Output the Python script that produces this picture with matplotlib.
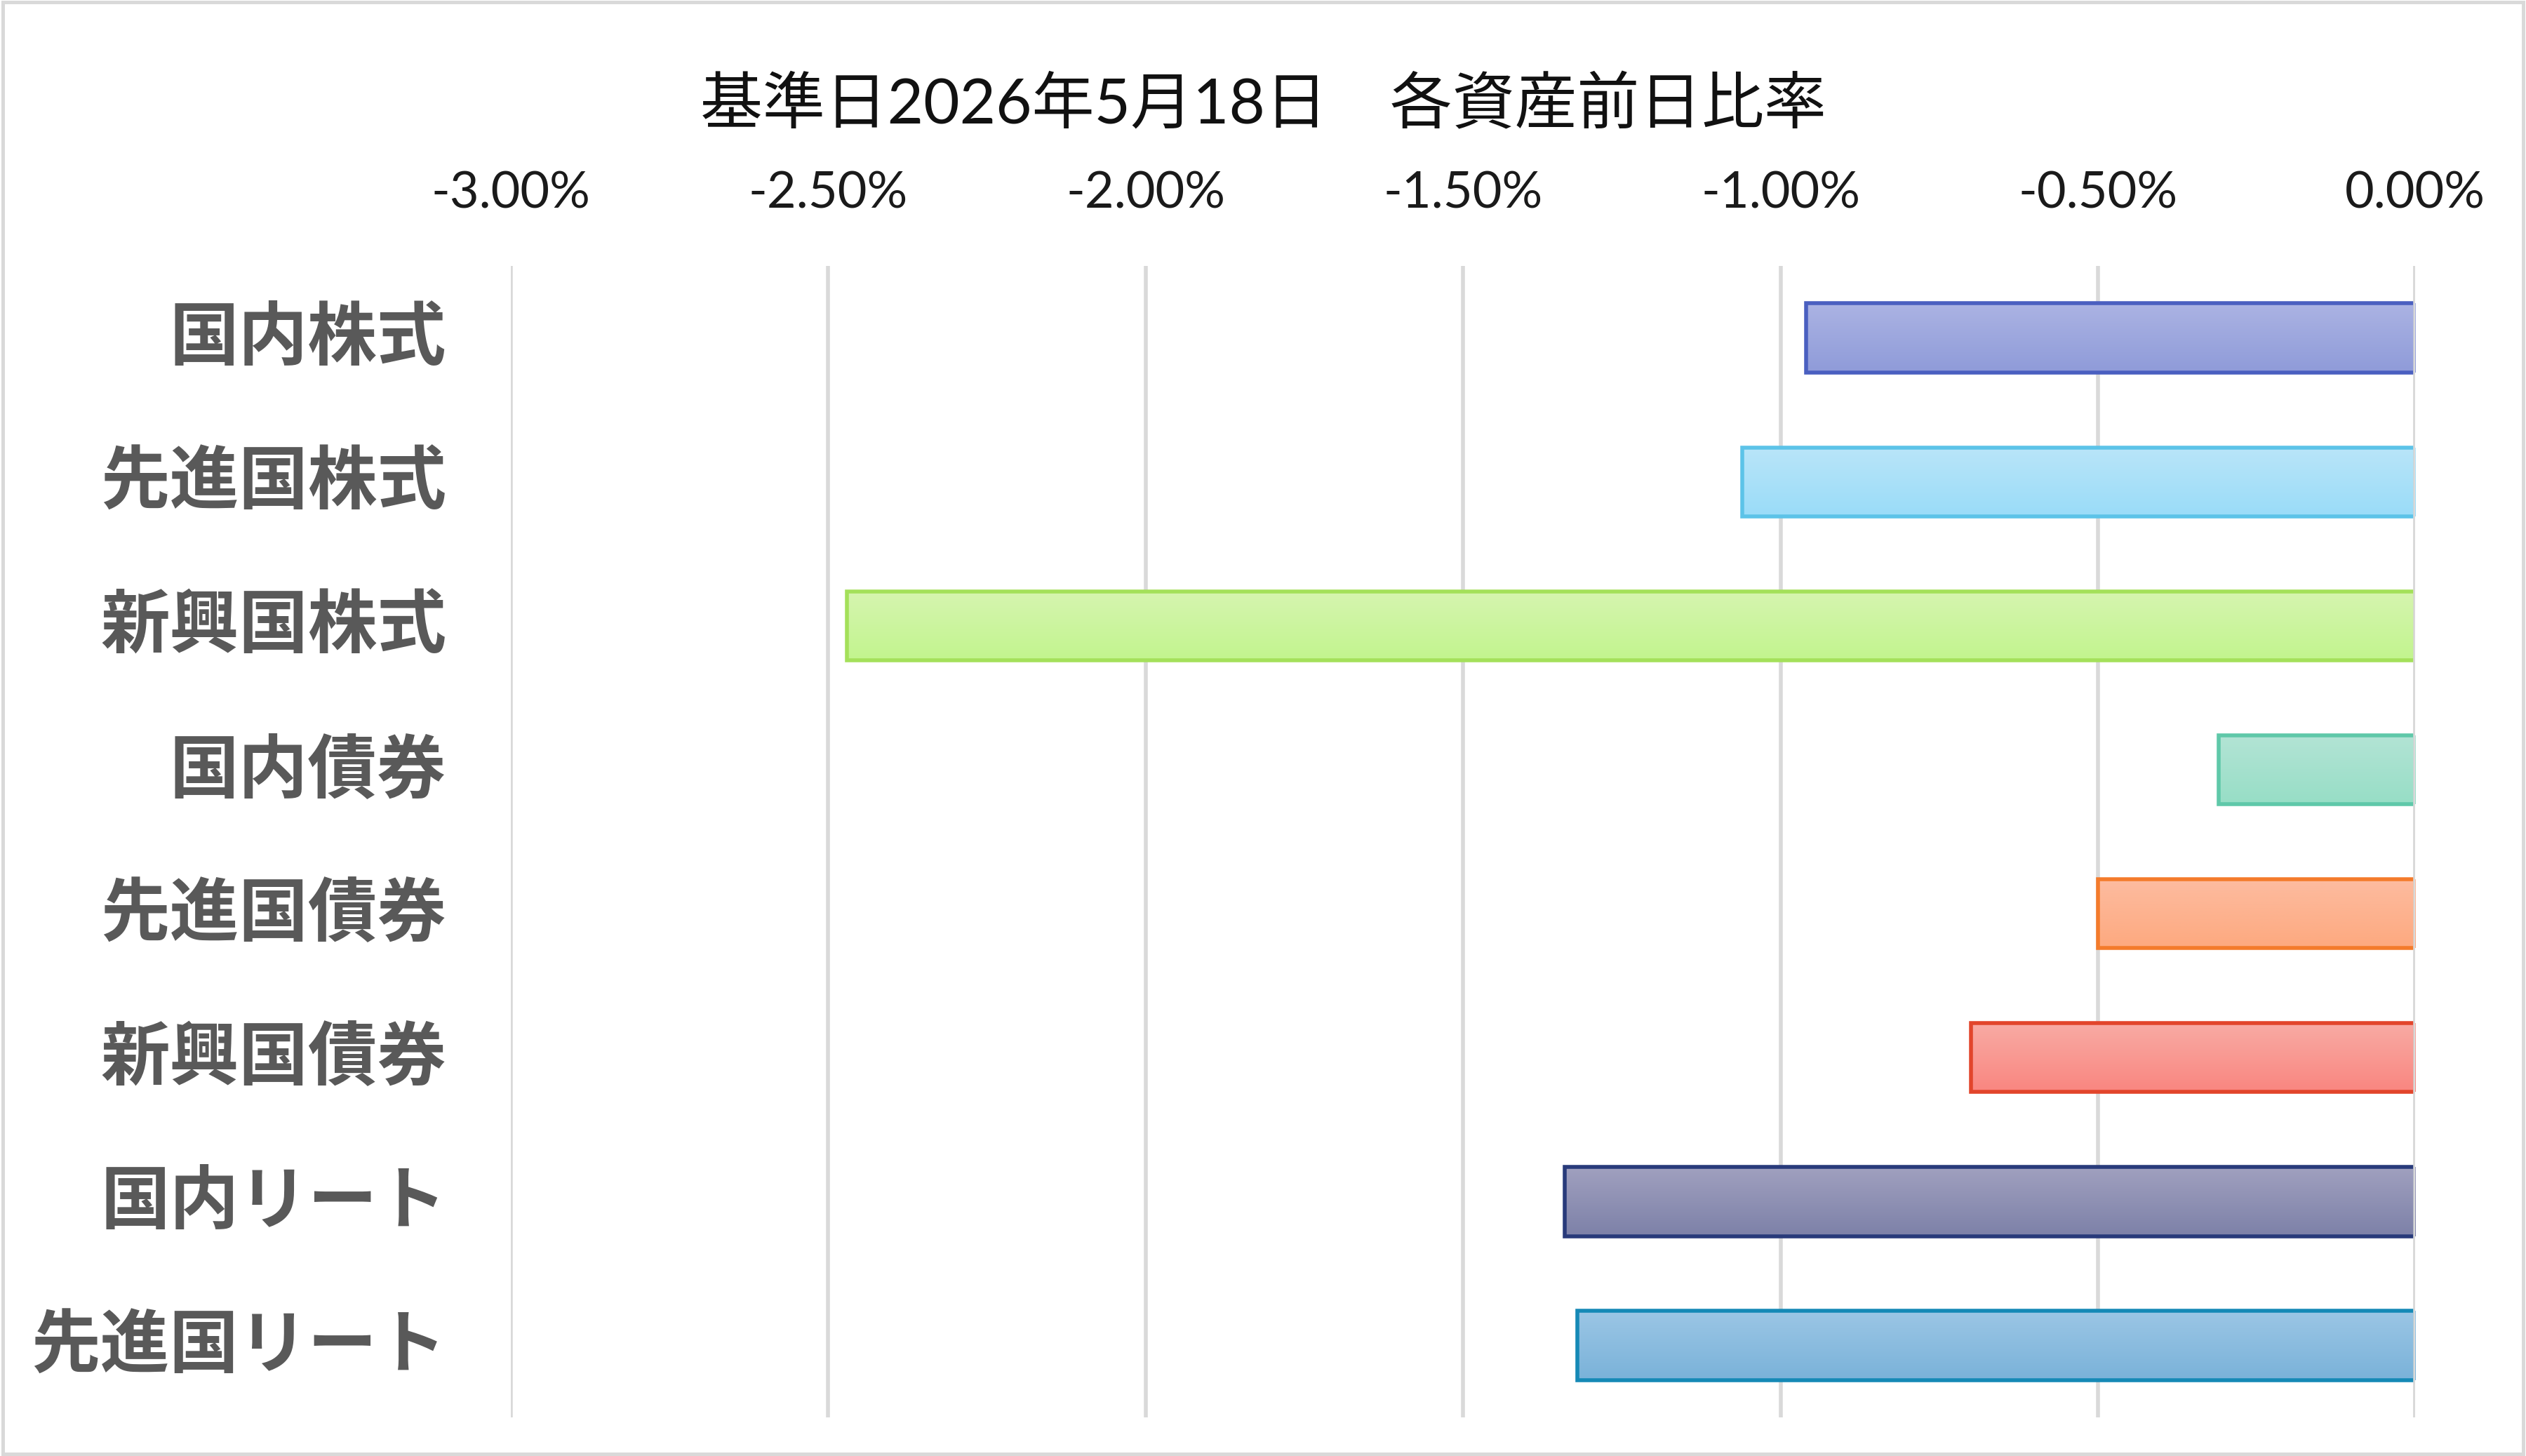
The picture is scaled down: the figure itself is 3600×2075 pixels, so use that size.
import matplotlib
matplotlib.use("Agg")
import matplotlib.pyplot as plt
import numpy as np
from matplotlib.colors import to_rgb
from matplotlib.patches import Rectangle
from matplotlib.transforms import ScaledTranslation

categories = ["国内株式", "先進国株式", "新興国株式", "国内債券",
              "先進国債券", "新興国債券", "国内リート", "先進国リート"]
values = [-0.96, -1.06, -2.47, -0.31, -0.50, -0.70, -1.34, -1.32]
xticks = [-3.0, -2.5, -2.0, -1.5, -1.0, -0.5, 0.0]
xtick_labels = ["-3.00%", "-2.50%", "-2.00%", "-1.50%", "-1.00%", "-0.50%", "0.00%"]
title = "基準日2026年5月18日　各資産前日比率"

fill_top = ["#abb3e3", "#b9e5f8", "#d6f5b0", "#b3e4d5",
            "#fdbca0", "#f8aba4", "#a0a0bf", "#9bc6e5"]
fill_bottom = ["#8f9bd9", "#9adcf9", "#c2f48e", "#97dec6",
               "#fda97f", "#fa8680", "#7d81a8", "#7ab2d9"]
edge_colors = ["#4a5fc0", "#5cc3e8", "#a4e05a", "#5fc8a9",
               "#f47b2b", "#e2452b", "#283a7a", "#1589b6"]

plt.rcParams['font.family'] = ['Noto Sans CJK JP', 'DejaVu Sans']

fig = plt.figure(figsize=(36, 20.75), dpi=100)
ax = fig.add_axes([0.2022, 0.0265, 0.7540, 0.7908])

y = np.arange(len(categories))
bars = ax.barh(y, values, height=0.48, color='none',
               edgecolor=edge_colors, linewidth=4, zorder=3)

for i, patch in enumerate(bars.patches):
    x0 = patch.get_x()
    w = patch.get_width()
    y0 = patch.get_y()
    h = patch.get_height()
    c1 = np.array(to_rgb(fill_top[i]))
    c2 = np.array(to_rgb(fill_bottom[i]))
    t = np.linspace(0, 1, 64)[:, None]
    grad = (c1[None, :] * (1 - t) + c2[None, :] * t)[:, None, :]
    im = ax.imshow(grad, extent=(x0, x0 + w, y0 + h, y0), origin='upper',
                   aspect='auto', interpolation='bicubic', zorder=2)
    im.set_clip_path(patch)

ax.set_xlim(-3.0, 0.0)
ax.set_ylim(len(categories) - 0.5, -0.5)

ax.set_xticks(xticks)
ax.set_xticklabels(xtick_labels, family=['Lato', 'DejaVu Sans'],
                   fontsize=52, color='#1a1a1a')
ax.xaxis.tick_top()
ax.set_yticks(y)
ax.set_yticklabels(categories, fontsize=71, fontweight='bold', color='#595959')
ax.tick_params(axis='x', length=0, pad=51)
ax.tick_params(axis='y', length=0, pad=66)
shift = ScaledTranslation(0, 0.09, fig.dpi_scale_trans)
for lab in ax.get_yticklabels():
    lab.set_transform(lab.get_transform() + shift)

ax.grid(axis='x', color='#d9d9d9', linewidth=4, zorder=0)
ax.set_axisbelow(True)
ax.axvline(0, color='#d9d9d9', linewidth=4, zorder=4)
for s in ax.spines.values():
    s.set_visible(False)

fig.text(0.5, 1 - 151 / 2075, title, ha='center', va='center',
         fontsize=64, color='#111111',
         family=['Lato', 'Noto Sans CJK JP', 'DejaVu Sans'])

fig.patches.append(Rectangle((0.001, 0.0015), 0.998, 0.997, transform=fig.transFigure,
                             fill=False, edgecolor='#d9d9d9', linewidth=3.6))

fig.savefig("out.png", dpi=100, facecolor='white')
